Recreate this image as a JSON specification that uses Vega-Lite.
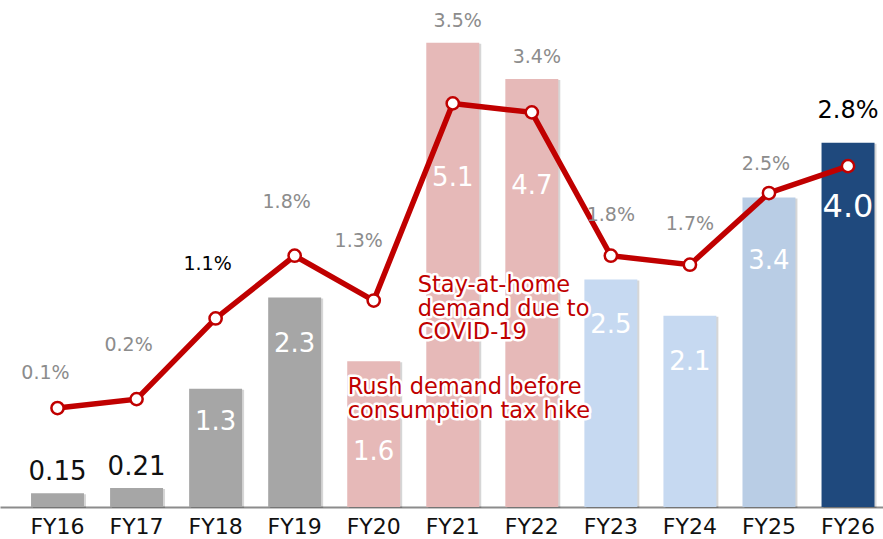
{
  "$schema": "https://vega.github.io/schema/vega-lite/v6.json",
  "width": 883,
  "height": 507,
  "autosize": {"type": "none"},
  "padding": {"left": 0, "top": 0, "right": 0, "bottom": 32},
  "background": "white",
  "config": {
    "view": {"stroke": null},
    "font": "DejaVu Sans",
    "text": {"font": "DejaVu Sans"}
  },
  "data": {
    "values": [
      {"fy": "FY16", "sales": 0.15, "growth": 0.001},
      {"fy": "FY17", "sales": 0.21, "growth": 0.002},
      {"fy": "FY18", "sales": 1.3, "growth": 0.011},
      {"fy": "FY19", "sales": 2.3, "growth": 0.018},
      {"fy": "FY20", "sales": 1.6, "growth": 0.013},
      {"fy": "FY21", "sales": 5.1, "growth": 0.035},
      {"fy": "FY22", "sales": 4.7, "growth": 0.034},
      {"fy": "FY23", "sales": 2.5, "growth": 0.018},
      {"fy": "FY24", "sales": 2.1, "growth": 0.017},
      {"fy": "FY25", "sales": 3.4, "growth": 0.025},
      {"fy": "FY26", "sales": 4.0, "growth": 0.028}
    ]
  },
  "encoding": {
    "x": {
      "field": "fy",
      "type": "nominal",
      "sort": null,
      "scale": {
        "domain": ["FY16", "FY17", "FY18", "FY19", "FY20", "FY21", "FY22", "FY23", "FY24", "FY25", "FY26"],
        "paddingInner": 0.33,
        "paddingOuter": 0.25,
        "align": 0.785
      },
      "axis": {
        "title": null,
        "ticks": false,
        "tickSize": 0,
        "labelAngle": 0,
        "labelFont": "DejaVu Sans",
        "labelFontSize": 22,
        "labelColor": "#111111",
        "labelPadding": 9,
        "domainColor": "#8C8C8C",
        "domainWidth": 2,
        "grid": false
      }
    }
  },
  "layer": [
    {
      "layer": [
        {
          "mark": {"type": "bar", "color": "#000000", "opacity": 0.16, "xOffset": 2, "yOffset": 1},
          "encoding": {
            "y": {"field": "sales", "type": "quantitative", "scale": {"domain": [0, 5.569], "nice": false}, "axis": null}
          }
        },
        {
          "mark": {"type": "bar"},
          "encoding": {
            "y": {"field": "sales", "type": "quantitative", "scale": {"domain": [0, 5.569], "nice": false}, "axis": null},
            "color": {
              "field": "fy",
              "type": "nominal",
              "scale": {
                "domain": ["FY16", "FY17", "FY18", "FY19", "FY20", "FY21", "FY22", "FY23", "FY24", "FY25", "FY26"],
                "range": ["#A6A6A6", "#A6A6A6", "#A6A6A6", "#A6A6A6", "#E6B9B8", "#E6B9B8", "#E6B9B8", "#C6D9F1", "#C6D9F1", "#B9CDE5", "#1F497D"]
              },
              "legend": null
            }
          }
        },
        {
          "transform": [{"filter": {"field": "fy", "oneOf": ["FY16", "FY17"]}}],
          "mark": {"type": "text", "baseline": "middle", "dy": -21, "fontSize": 26, "color": "#111111"},
          "encoding": {
            "y": {"field": "sales", "type": "quantitative", "scale": {"domain": [0, 5.569], "nice": false}, "axis": null},
            "text": {"field": "sales", "type": "quantitative", "format": ".2f"}
          }
        },
        {
          "transform": [{"filter": {"field": "fy", "oneOf": ["FY18"]}}],
          "mark": {"type": "text", "baseline": "middle", "dy": 33, "fontSize": 26, "color": "white"},
          "encoding": {
            "y": {"field": "sales", "type": "quantitative", "scale": {"domain": [0, 5.569], "nice": false}, "axis": null},
            "text": {"field": "sales", "type": "quantitative", "format": ".1f"}
          }
        },
        {
          "transform": [{"filter": {"field": "fy", "oneOf": ["FY19", "FY23", "FY24"]}}],
          "mark": {"type": "text", "baseline": "middle", "dy": 46, "fontSize": 26, "color": "white"},
          "encoding": {
            "y": {"field": "sales", "type": "quantitative", "scale": {"domain": [0, 5.569], "nice": false}, "axis": null},
            "text": {"field": "sales", "type": "quantitative", "format": ".1f"}
          }
        },
        {
          "transform": [{"filter": {"field": "fy", "oneOf": ["FY25", "FY26"]}}],
          "mark": {"type": "text", "baseline": "middle", "dy": 64, "color": "white"},
          "encoding": {
            "y": {"field": "sales", "type": "quantitative", "scale": {"domain": [0, 5.569], "nice": false}, "axis": null},
            "text": {"field": "sales", "type": "quantitative", "format": ".1f"},
            "size": {"condition": {"test": "datum.fy === 'FY26'", "value": 32}, "value": 26}
          }
        },
        {
          "transform": [{"filter": {"field": "fy", "oneOf": ["FY20"]}}],
          "mark": {"type": "text", "baseline": "middle", "dy": 91, "fontSize": 26, "color": "white"},
          "encoding": {
            "y": {"field": "sales", "type": "quantitative", "scale": {"domain": [0, 5.569], "nice": false}, "axis": null},
            "text": {"field": "sales", "type": "quantitative", "format": ".1f"}
          }
        },
        {
          "transform": [{"filter": {"field": "fy", "oneOf": ["FY21"]}}],
          "mark": {"type": "text", "baseline": "middle", "dy": 135, "fontSize": 26, "color": "white"},
          "encoding": {
            "y": {"field": "sales", "type": "quantitative", "scale": {"domain": [0, 5.569], "nice": false}, "axis": null},
            "text": {"field": "sales", "type": "quantitative", "format": ".1f"}
          }
        },
        {
          "transform": [{"filter": {"field": "fy", "oneOf": ["FY22"]}}],
          "mark": {"type": "text", "baseline": "middle", "dy": 107, "fontSize": 26, "color": "white"},
          "encoding": {
            "y": {"field": "sales", "type": "quantitative", "scale": {"domain": [0, 5.569], "nice": false}, "axis": null},
            "text": {"field": "sales", "type": "quantitative", "format": ".1f"}
          }
        }
      ]
    },
    {
      "layer": [
        {
          "mark": {"type": "line", "color": "#C00000", "strokeWidth": 5.5},
          "encoding": {
            "y": {"field": "growth", "type": "quantitative", "scale": {"domain": [-0.01004, 0.04654], "nice": false, "zero": false}, "axis": null}
          }
        },
        {
          "mark": {"type": "circle", "fill": "white", "stroke": "#C00000", "strokeWidth": 2.5, "size": 150, "opacity": 1},
          "encoding": {
            "y": {"field": "growth", "type": "quantitative", "scale": {"domain": [-0.01004, 0.04654], "nice": false, "zero": false}, "axis": null}
          }
        },
        {
          "transform": [{"filter": {"field": "fy", "oneOf": ["FY17", "FY18", "FY19"]}}],
          "mark": {"type": "text", "baseline": "middle", "dy": -54, "dx": -8, "fontSize": 19},
          "encoding": {
            "y": {"field": "growth", "type": "quantitative", "scale": {"domain": [-0.01004, 0.04654], "nice": false, "zero": false}, "axis": null},
            "text": {"field": "growth", "type": "quantitative", "format": ".1%"},
            "color": {"condition": {"test": "datum.fy === 'FY18'", "value": "#000000"}, "value": "#8C8C8C"}
          }
        },
        {
          "transform": [{"filter": {"field": "fy", "oneOf": ["FY16"]}}],
          "mark": {"type": "text", "baseline": "middle", "dy": -35, "dx": -12, "fontSize": 19, "color": "#8C8C8C"},
          "encoding": {
            "y": {"field": "growth", "type": "quantitative", "scale": {"domain": [-0.01004, 0.04654], "nice": false, "zero": false}, "axis": null},
            "text": {"field": "growth", "type": "quantitative", "format": ".1%"}
          }
        },
        {
          "transform": [{"filter": {"field": "fy", "oneOf": ["FY20"]}}],
          "mark": {"type": "text", "baseline": "middle", "dy": -60, "dx": -15, "fontSize": 19, "color": "#8C8C8C"},
          "encoding": {
            "y": {"field": "growth", "type": "quantitative", "scale": {"domain": [-0.01004, 0.04654], "nice": false, "zero": false}, "axis": null},
            "text": {"field": "growth", "type": "quantitative", "format": ".1%"}
          }
        },
        {
          "transform": [{"filter": {"field": "fy", "oneOf": ["FY23", "FY24"]}}],
          "mark": {"type": "text", "baseline": "middle", "dy": -41, "fontSize": 19, "color": "#8C8C8C"},
          "encoding": {
            "y": {"field": "growth", "type": "quantitative", "scale": {"domain": [-0.01004, 0.04654], "nice": false, "zero": false}, "axis": null},
            "text": {"field": "growth", "type": "quantitative", "format": ".1%"}
          }
        }
      ]
    },
    {
      "layer": [
        {
          "transform": [{"filter": {"field": "fy", "oneOf": ["FY21", "FY22"]}}],
          "mark": {"type": "text", "baseline": "middle", "dy": -22, "dx": 5, "fontSize": 19, "color": "#8C8C8C"},
          "encoding": {
            "y": {"field": "sales", "type": "quantitative", "scale": {"domain": [0, 5.569], "nice": false}, "axis": null},
            "text": {"field": "growth", "type": "quantitative", "format": ".1%"}
          }
        },
        {
          "transform": [{"filter": {"field": "fy", "oneOf": ["FY25"]}}],
          "mark": {"type": "text", "baseline": "middle", "dy": -33, "dx": -3, "fontSize": 19, "color": "#8C8C8C"},
          "encoding": {
            "y": {"field": "sales", "type": "quantitative", "scale": {"domain": [0, 5.569], "nice": false}, "axis": null},
            "text": {"field": "growth", "type": "quantitative", "format": ".1%"}
          }
        },
        {
          "transform": [{"filter": {"field": "fy", "oneOf": ["FY26"]}}],
          "mark": {"type": "text", "baseline": "middle", "dy": -32, "fontSize": 24, "color": "#000000"},
          "encoding": {
            "y": {"field": "sales", "type": "quantitative", "scale": {"domain": [0, 5.569], "nice": false}, "axis": null},
            "text": {"field": "growth", "type": "quantitative", "format": ".1%"}
          }
        },
        {
          "data": {"values": [{"note": "covid"}]},
          "mark": {"type": "text", "align": "left", "baseline": "top", "dx": -35, "fontSize": 22.5, "lineHeight": 23.5, "stroke": "white", "strokeWidth": 5, "strokeJoin": "round", "fill": "white", "text": ["Stay-at-home", "demand due to", "COVID-19"]},
          "encoding": {
            "x": {"datum": "FY21"},
            "y": {"datum": 2.556, "type": "quantitative", "scale": {"domain": [0, 5.569], "nice": false}, "axis": null}
          }
        },
        {
          "data": {"values": [{"note": "covid"}]},
          "mark": {"type": "text", "align": "left", "baseline": "top", "dx": -35, "fontSize": 22.5, "lineHeight": 23.5, "color": "#C00000", "text": ["Stay-at-home", "demand due to", "COVID-19"]},
          "encoding": {
            "x": {"datum": "FY21"},
            "y": {"datum": 2.556, "type": "quantitative", "scale": {"domain": [0, 5.569], "nice": false}, "axis": null}
          }
        },
        {
          "data": {"values": [{"note": "tax"}]},
          "mark": {"type": "text", "align": "left", "baseline": "top", "dx": -26, "fontSize": 22.5, "lineHeight": 23.5, "stroke": "white", "strokeWidth": 5, "strokeJoin": "round", "fill": "white", "text": ["Rush demand before", "consumption tax hike"]},
          "encoding": {
            "x": {"datum": "FY20"},
            "y": {"datum": 1.435, "type": "quantitative", "scale": {"domain": [0, 5.569], "nice": false}, "axis": null}
          }
        },
        {
          "data": {"values": [{"note": "tax"}]},
          "mark": {"type": "text", "align": "left", "baseline": "top", "dx": -26, "fontSize": 22.5, "lineHeight": 23.5, "color": "#C00000", "text": ["Rush demand before", "consumption tax hike"]},
          "encoding": {
            "x": {"datum": "FY20"},
            "y": {"datum": 1.435, "type": "quantitative", "scale": {"domain": [0, 5.569], "nice": false}, "axis": null}
          }
        }
      ]
    }
  ],
  "resolve": {"scale": {"y": "independent"}}
}
